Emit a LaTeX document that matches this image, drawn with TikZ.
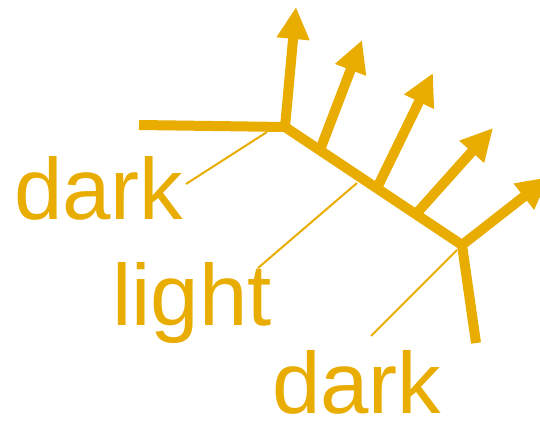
\documentclass[tikz,border=0pt]{standalone}
\usepackage{fontspec}
\setmainfont{Liberation Sans}
\usetikzlibrary{arrows.meta}
\definecolor{gold}{RGB}{233,172,0}
\begin{document}
\begin{tikzpicture}[x=1pt,y=-1pt,
  stem/.style={draw=gold,line width=10pt,line cap=butt},
  vec/.style={stem,-{Triangle[length=32pt,width=31pt]}},
  leader/.style={draw=gold,line width=2pt},
  lbl/.style={text=gold,font=\fontsize{87}{96}\selectfont,inner sep=0pt,anchor=base west}]
\useasboundingbox (0,0) rectangle (540,422);
% skeleton points
\coordinate (L) at (139,125);
\coordinate (J1) at (285,127);
\coordinate (J2) at (462,245);
\coordinate (B) at (476,343);
\coordinate (P2) at (320,150);
\coordinate (P3) at (377,188);
\coordinate (P4) at (416,214);
\coordinate (T1) at (296,7);
\coordinate (T2) at (362,40);
\coordinate (T3) at (433,73);
\coordinate (T4) at (493,128);
\coordinate (T5) at (549,177);
% bonds
\draw[stem] (L) -- (J1);
\draw[stem] (J1) -- (J2);
\draw[stem] (J2) -- (B);
% vectors
\draw[vec] (J1) -- (T1);
\draw[vec] (P2) -- (T2);
\draw[vec] (P3) -- (T3);
\draw[vec] (P4) -- (T4);
\draw[vec] (J2) -- (T5);
% labels
\node[lbl] (d1) at (14,219) {dark};
\node[lbl] (l1) at (112,325) {light};
\node[lbl] (d2) at (272,413) {dark};
% leader lines
\coordinate (a1) at (186,184);
\coordinate (b1) at (267,132);
\coordinate (a2) at (258,268);
\coordinate (b2) at (357,183);
\coordinate (a3) at (371,336);
\coordinate (b3) at (457,250);
\draw[leader] (a1) -- (b1);
\draw[leader] (a2) -- (b2);
\draw[leader] (a3) -- (b3);
\end{tikzpicture}
\end{document}
